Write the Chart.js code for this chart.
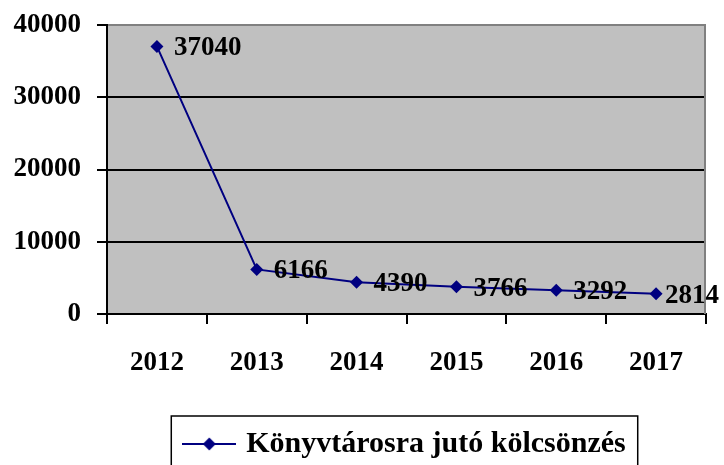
<!DOCTYPE html>
<html><head><meta charset="utf-8">
<script src="https://cdn.jsdelivr.net/npm/chart.js@4/dist/chart.umd.min.js"></script>
<style>html,body{margin:0;padding:0;background:#fff}#wrap{width:724px;height:465px}</style>
</head><body><div id="wrap"><canvas id="c" width="724" height="465"></canvas></div>
<script>
const years = ['2012', '2013', '2014', '2015', '2016', '2017'];
const loans = [37040, 6166, 4390, 3766, 3292, 2814];
const yTicks = [0, 10000, 20000, 30000, 40000];
const seriesName = 'Könyvtárosra jutó kölcsönzés';

const FAMILY = '"Liberation Serif", "Times New Roman", serif';
const NAVY = '#000080';
const FONT = { family: FAMILY, size: 27, weight: 'bold' };
const LEGEND_FONT = { family: FAMILY, size: 30, weight: 'bold' };

const ICON_W = 54;
const legendIcon = (() => {
  const c = document.createElement('canvas');
  c.width = ICON_W; c.height = 14;
  const g = c.getContext('2d');
  g.strokeStyle = NAVY; g.lineWidth = 2;
  g.beginPath(); g.moveTo(0, 7); g.lineTo(ICON_W, 7); g.stroke();
  g.fillStyle = NAVY;
  g.beginPath(); g.moveTo(27, 0.5); g.lineTo(33.5, 7); g.lineTo(27, 13.5); g.lineTo(20.5, 7); g.closePath(); g.fill();
  return c;
})();

const bgPlugin = {
  id: 'bg',
  beforeDraw(chart) {
    const a = chart.chartArea, g = chart.ctx;
    g.save(); g.fillStyle = '#C0C0C0';
    g.fillRect(a.left, a.top, a.right - a.left, a.bottom - a.top);
    g.restore();
  },
  beforeDatasetsDraw(chart) {
    const a = chart.chartArea, g = chart.ctx;
    g.save(); g.strokeStyle = '#808080'; g.lineWidth = 2;
    g.beginPath(); g.moveTo(a.right - 1, a.top); g.lineTo(a.right - 1, a.bottom); g.stroke();
    g.restore();
  }
};

const labelPlugin = {
  id: 'vals',
  afterDatasetsDraw(chart) {
    const meta = chart.getDatasetMeta(0), g = chart.ctx;
    g.save();
    g.font = 'bold 27px ' + FAMILY;
    g.fillStyle = '#000'; g.textBaseline = 'middle'; g.textAlign = 'left';
    meta.data.forEach((pt, i) => {
      const t = String(loans[i]);
      const w = g.measureText(t).width;
      const x = Math.min(pt.x + 17, chart.width - 5 - w);
      g.fillText(t, x, pt.y + 2);
    });
    g.restore();
  }
};

const legendBox = {
  id: 'legendBox',
  afterDraw(chart) {
    const hb = chart.legend && chart.legend.legendHitBoxes && chart.legend.legendHitBoxes[0];
    if (!hb) return;
    const g = chart.ctx, cy = hb.top + hb.height / 2;
    const boxW = chart.options.plugins.legend.labels.pointStyleWidth;
    const iconLeft = hb.left + boxW / 2 - ICON_W / 2;
    g.save(); g.strokeStyle = '#000'; g.lineWidth = 1.5;
    g.strokeRect(iconLeft - 11, cy - 28, (hb.left + hb.width + 12) - (iconLeft - 11), 70);
    g.restore();
  }
};

new Chart(document.getElementById('c'), {
  type: 'line',
  data: {
    labels: years,
    datasets: [{
      label: seriesName,
      data: loans,
      borderColor: NAVY,
      backgroundColor: NAVY,
      borderWidth: 2,
      pointStyle: 'rectRot',
      pointRadius: 6.5,
      pointBackgroundColor: NAVY,
      pointBorderColor: NAVY,
      pointBorderWidth: 0,
      tension: 0,
      fill: false
    }]
  },
  options: {
    responsive: false,
    animation: false,
    layout: { padding: { top: 25, right: 18, left: 0, bottom: -4 } },
    plugins: {
      legend: {
        position: 'bottom',
        fullSize: false,
        labels: {
          usePointStyle: true,
          pointStyle: legendIcon,
          pointStyleWidth: 44,
          padding: 0,
          color: '#000',
          font: LEGEND_FONT
        }
      },
      tooltip: { enabled: false }
    },
    scales: {
      x: {
        offset: true,
        grid: { offset: true, drawOnChartArea: false, color: '#000', lineWidth: 2, tickLength: 10 },
        border: { color: '#000', width: 2 },
        ticks: { color: '#000', font: FONT, padding: 23, maxRotation: 0 },
        afterFit(s) { s.height = 115; s.paddingLeft = 0; s.paddingRight = 0; }
      },
      y: {
        min: 0, max: 40000,
        afterBuildTicks(s) { s.ticks = yTicks.map(v => ({ value: v })); },
        grid: {
          color: c => (c.tick && c.tick.value === 40000) ? '#808080' : '#000',
          tickColor: '#000',
          lineWidth: 2,
          tickLength: 10
        },
        border: { color: '#000', width: 2 },
        ticks: { color: '#000', font: FONT, padding: 16, callback: v => String(v) },
        afterFit(s) { s.width = 107; s.paddingTop = 0; s.paddingBottom = 0; }
      }
    }
  },
  plugins: [bgPlugin, labelPlugin, legendBox]
});
</script>
</body></html>
